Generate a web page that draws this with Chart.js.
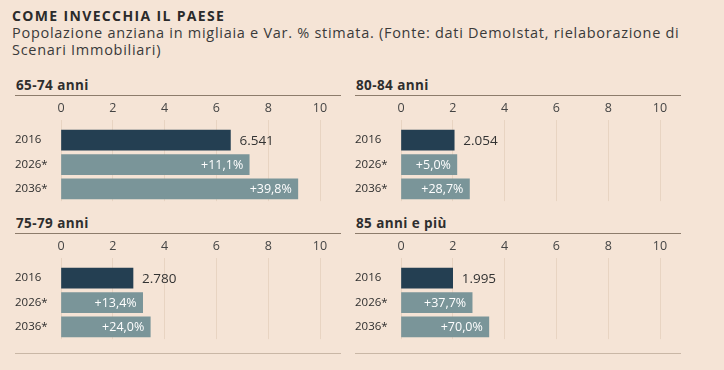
<!DOCTYPE html>
<html>
<head>
<meta charset="utf-8">
<script src="https://cdn.jsdelivr.net/npm/chart.js@4"></script>
<style>
  body { margin: 0; background: #f5e4d6; font-family: "Open Sans", sans-serif; color: #333; }
  #wrap { position: relative; width: 724px; height: 370px; overflow: hidden; }
  .titolo { position: absolute; left: 12px; top: 6px; font-size: 14px; letter-spacing: 1.35px; font-weight: 700; color: #2b2b2b; }
  .sotto { position: absolute; left: 12px; top: 24px; width: 710px; font-size: 14.5px; letter-spacing: 0.72px; line-height: 17px; color: #3a3a3a; }
  .pannello { position: absolute; width: 326px; }
  .pannello h3 { margin: 0; height: 19px; padding-left: 1px; font-size: 13.5px; letter-spacing: 0.4px; font-weight: 700; color: #2e2e2e; line-height: 18px; border-bottom: 1.5px solid #8d7c6c; }
  .pannello canvas { display: block; margin-top: 1px; }
  .fondo { position: absolute; left: 15px; top: 353px; width: 326px; height: 1px; background: #c9b7a6; }
</style>
</head>
<body>
<div id="wrap">
  <div class="titolo">COME INVECCHIA IL PAESE</div>
  <div class="sotto">Popolazione anziana in migliaia e Var. % stimata. (Fonte: dati DemoIstat, rielaborazione di<br>Scenari Immobiliari)</div>

  <div class="pannello" style="left:15px; top:76px;"><h3>65-74 anni</h3><canvas id="c6574" width="326" height="111"></canvas></div>
  <div class="pannello" style="left:355px; top:76px;"><h3>80-84 anni</h3><canvas id="c8084" width="326" height="111"></canvas></div>
  <div class="pannello" style="left:15px; top:214px;"><h3>75-79 anni</h3><canvas id="c7579" width="326" height="111"></canvas></div>
  <div class="pannello" style="left:355px; top:214px;"><h3>85 anni e più</h3><canvas id="c85" width="326" height="111"></canvas></div>
  <div class="fondo"></div>
  <div class="fondo" style="left:355px;"></div>
</div>

<script>
// anni sull'asse verticale
const anni = ['2016', '2026*', '2036*'];

// popolazione in milioni (migliaia / 1000)
const val6574 = [6.541, 7.267, 9.144];
const val8084 = [2.054, 2.157, 2.643];
const val7579 = [2.780, 3.153, 3.447];
const val85 = [1.995, 2.747, 3.392];

// etichette scritte sulle barre
const etic6574 = ['6.541', '+11,1%', '+39,8%'];
const etic8084 = ['2.054', '+5,0%', '+28,7%'];
const etic7579 = ['2.780', '+13,4%', '+24,0%'];
const etic85 = ['1.995', '+37,7%', '+70,0%'];

// tacche asse orizzontale
const tacche = [0, 2, 4, 6, 8, 10];

const coloriBarre = ['#243f52', '#7a9599', '#7a9599'];
const FONT = '"Open Sans", sans-serif';

// scrive il valore fuori dalla barra 2016 e la variazione dentro le altre
const etichette = {
    id: 'etichette',
    afterDatasetsDraw(chart) {
        const ctx = chart.ctx;
        const testi = chart.options.plugins.etichette.testi;
        chart.getDatasetMeta(0).data.forEach((bar, i) => {
            ctx.save();
            ctx.textBaseline = 'middle';
            if (i === 0) {
                ctx.font = '13.5px ' + FONT;
                ctx.fillStyle = '#333';
                ctx.textAlign = 'left';
                ctx.fillText(testi[i], bar.x + 9, bar.y + 1);
            } else {
                ctx.font = '12.5px ' + FONT;
                ctx.fillStyle = '#ffffff';
                ctx.textAlign = 'right';
                ctx.fillText(testi[i], bar.x - 6, bar.y + 1);
            }
            ctx.restore();
        });
    }
};

function grafico(id, valori, testi) {
    new Chart(document.getElementById(id), {
        type: 'bar',
        data: {
            labels: anni,
            datasets: [{
                data: valori,
                backgroundColor: coloriBarre,
                barThickness: 20
            }]
        },
        plugins: [etichette],
        options: {
            indexAxis: 'y',
            responsive: false,
            animation: false,
            layout: { padding: { left: 0, right: 21, top: 0, bottom: 0 } },
            plugins: {
                legend: { display: false },
                tooltip: { enabled: false },
                etichette: { testi: testi }
            },
            scales: {
                x: {
                    position: 'top',
                    min: 0,
                    max: 10,
                    afterBuildTicks: s => { s.ticks = tacche.map(v => ({ value: v })); },
                    afterFit: s => { s.height = 31; },
                    border: { display: false },
                    grid: { color: '#e8d4c2', lineWidth: 1, tickLength: 8, tickColor: '#e8d4c2' },
                    ticks: { color: '#444', font: { family: FONT, size: 12.5 }, padding: 4 }
                },
                y: {
                    afterFit: s => { s.width = 46; },
                    border: { display: false },
                    grid: { display: false },
                    ticks: { crossAlign: 'far', color: '#2e2e2e', font: { family: FONT, size: 11.5 }, padding: 0 }
                }
            }
        }
    });
}

grafico('c6574', val6574, etic6574);
grafico('c8084', val8084, etic8084);
grafico('c7579', val7579, etic7579);
grafico('c85', val85, etic85);
</script>
</body>
</html>
